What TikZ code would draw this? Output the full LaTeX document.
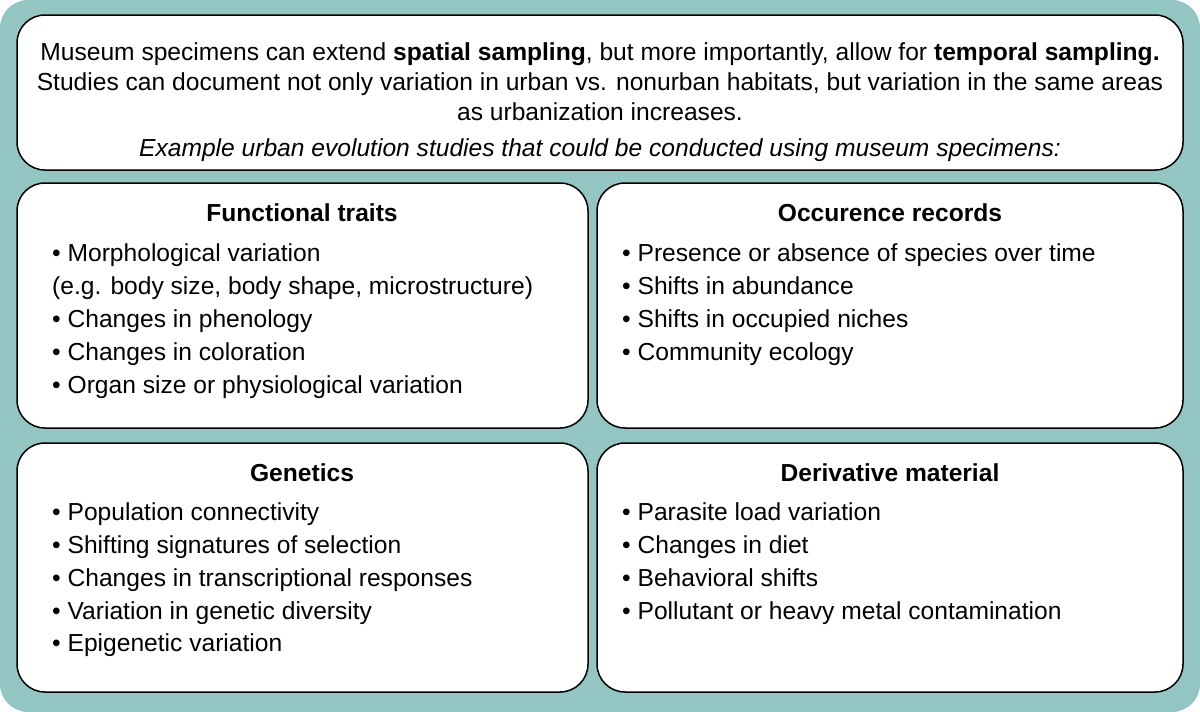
\documentclass[tikz,border=0pt]{standalone}
\usepackage{fontspec}
\setmainfont{Liberation Sans}
\definecolor{teal}{HTML}{93C5C3}
\begin{document}
\begin{tikzpicture}[x=1pt,y=-1pt,
  box/.style={draw=black,line width=1.5pt,fill=white,rounded corners=28pt},
  txt/.style={inner sep=0pt,anchor=base west,font=\fontsize{24.6}{29}\selectfont},
  ttl/.style={inner sep=0pt,anchor=base,font=\fontsize{24.6}{29}\selectfont\bfseries}]
\useasboundingbox (0,0) rectangle (1200,712);
\fill[teal,rounded corners=28pt] (0,0) rectangle (1200,712);
\draw[box] (17,15) rectangle (1183,170);
\draw[box] (17,183) rectangle (588,428);
\draw[box] (597,183) rectangle (1183,428);
\draw[box] (17,443) rectangle (588,692);
\draw[box] (597,443) rectangle (1183,692);
\begin{scope}[every node/.style={inner sep=0pt,anchor=base,font=\fontsize{24.6}{29}\selectfont}]
\node (t1) at (600,60) {Museum specimens can extend \textbf{spatial sampling}, but more importantly, allow for \textbf{temporal sampling.}};
\node (t2) at (600,90) {Studies can document not only variation in urban vs. nonurban habitats, but variation in the same areas};
\node (t3) at (600,120) {as urbanization increases.};
\node (t4) at (600,156) {\itshape Example urban evolution studies that could be conducted using museum specimens:};
\end{scope}
\node[ttl] (h1) at (302,221) {Functional traits};
\node[ttl] (h2) at (890,221) {Occurence records};
\node[ttl] (h3) at (302,481) {Genetics};
\node[ttl] (h4) at (890,481) {Derivative material};
\node[txt] (a1) at (52,261) {• Morphological variation};
\node[txt] (a2) at (52,294) {(e.g. body size, body shape, microstructure)};
\node[txt] (a3) at (52,327) {• Changes in phenology};
\node[txt] (a4) at (52,360) {• Changes in coloration};
\node[txt] (a5) at (52,393) {• Organ size or physiological variation};
\node[txt] (b1) at (622,261) {• Presence or absence of species over time};
\node[txt] (b2) at (622,294) {• Shifts in abundance};
\node[txt] (b3) at (622,327) {• Shifts in occupied niches};
\node[txt] (b4) at (622,360) {• Community ecology};
\node[txt] (c1) at (52,520) {• Population connectivity};
\node[txt] (c2) at (52,553) {• Shifting signatures of selection};
\node[txt] (c3) at (52,586) {• Changes in transcriptional responses};
\node[txt] (c4) at (52,619) {• Variation in genetic diversity};
\node[txt] (c5) at (52,651) {• Epigenetic variation};
\node[txt] (d1) at (622,520) {• Parasite load variation};
\node[txt] (d2) at (622,553) {• Changes in diet};
\node[txt] (d3) at (622,586) {• Behavioral shifts};
\node[txt] (d4) at (622,619) {• Pollutant or heavy metal contamination};
\end{tikzpicture}
\end{document}
